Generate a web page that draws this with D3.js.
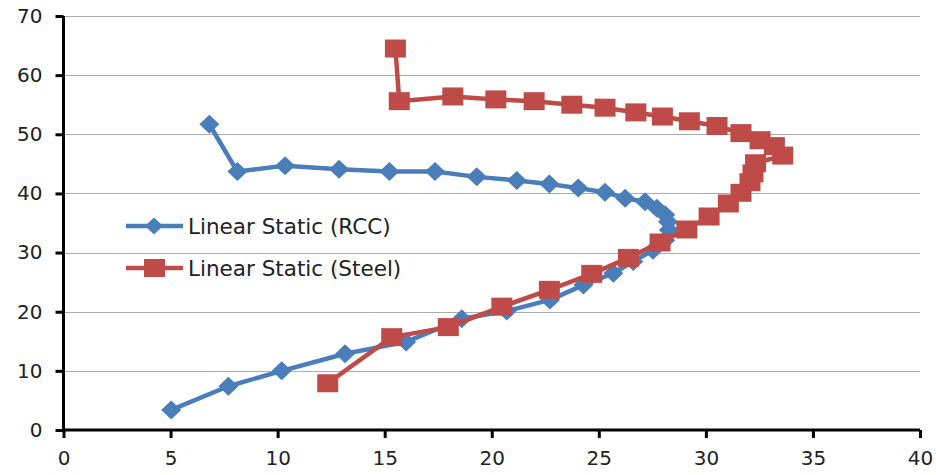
<!DOCTYPE html>
<html>
<head>
<meta charset="utf-8">
<script src="https://cdn.jsdelivr.net/npm/d3@7"></script>
<style>
  html, body { margin: 0; padding: 0; background: #ffffff; }
  svg { display: block; }
</style>
</head>
<body>
<svg id="chart" width="936" height="475"></svg>
<script>
// ---- data ----
const seriesNames = ["Linear Static (RCC)", "Linear Static (Steel)"];
const xTicks = [0, 5, 10, 15, 20, 25, 30, 35, 40];
const yTicks = [0, 10, 20, 30, 40, 50, 60, 70];

const rccX = [5.03, 7.70, 10.19, 13.15, 16.0, 18.6, 20.7, 22.72, 24.28, 25.68, 26.61, 27.53, 28.1, 28.27, 28.23, 28.1, 27.71, 27.16, 26.23, 25.29, 24.04, 22.69, 21.17, 19.3, 17.35, 15.22, 12.87, 10.35, 8.12, 6.81];
const rccY = [3.4, 7.4, 10.0, 12.9, 14.9, 18.8, 20.1, 22.0, 24.5, 26.5, 28.5, 30.4, 32.1, 33.8, 35.2, 36.4, 37.5, 38.6, 39.2, 40.2, 40.9, 41.6, 42.2, 42.8, 43.7, 43.7, 44.1, 44.7, 43.7, 51.7];

const steelX = [12.34, 15.33, 17.97, 20.47, 22.69, 24.67, 26.38, 27.86, 29.11, 30.15, 31.05, 31.64, 32.06, 32.2, 32.32, 33.59, 33.2, 32.53, 31.64, 30.52, 29.23, 27.97, 26.73, 25.29, 23.74, 21.98, 20.19, 18.18, 15.68, 15.5];
const steelY = [7.9, 15.7, 17.4, 20.85, 23.7, 26.4, 29.1, 31.7, 33.9, 36.1, 38.3, 40.1, 41.9, 43.4, 45.1, 46.4, 48.0, 49.0, 50.2, 51.4, 52.2, 53.0, 53.7, 54.5, 55.0, 55.6, 55.9, 56.4, 55.6, 64.5];

// ---- drawing ----
const svg = d3.select("#chart");
const x = d3.scaleLinear().domain([0, 40]).range([63.5, 920]);
const y = d3.scaleLinear().domain([0, 70]).range([430, 16]);

const blue = "#4A7EBB";
const red = "#BE4B48";
const font = "DejaVu Sans, Verdana, sans-serif";

// gridlines
svg.append("g").selectAll("line")
  .data(yTicks.filter(t => t > 0))
  .join("line")
  .attr("x1", x(0)).attr("x2", x(40))
  .attr("y1", d => Math.round(y(d)) + 0.5).attr("y2", d => Math.round(y(d)) + 0.5)
  .attr("stroke", "#ababab").attr("stroke-width", 1.2);

// y axis
const yAxis = svg.append("g")
  .attr("transform", `translate(${x(0)},0)`)
  .call(d3.axisLeft(y).tickValues(yTicks).tickSize(8).tickPadding(13).tickFormat(d3.format("d")));
yAxis.select(".domain").attr("stroke", "#000").attr("stroke-width", 3).attr("d", `M0,${y(70)}V${y(0)}`);
yAxis.selectAll(".tick line").attr("stroke", "#000").attr("stroke-width", 3);
yAxis.selectAll(".tick text")
  .attr("font-family", font)
  .attr("font-size", 20).attr("fill", "#222");

// x axis
const xAxis = svg.append("g")
  .attr("transform", `translate(0,${y(0)})`)
  .call(d3.axisBottom(x).tickValues(xTicks).tickSize(8).tickPadding(13).tickFormat(d3.format("d")));
xAxis.select(".domain").attr("stroke", "#000").attr("stroke-width", 3).attr("d", `M${x(0)},0H${x(40)}`);
xAxis.selectAll(".tick line").attr("stroke", "#000").attr("stroke-width", 3);
xAxis.selectAll(".tick text")
  .attr("font-family", font)
  .attr("font-size", 20).attr("fill", "#222");

const rcc = rccX.map((v, i) => ({ x: v, y: rccY[i] }));
const steel = steelX.map((v, i) => ({ x: v, y: steelY[i] }));

const line = d3.line().x(d => x(d.x)).y(d => y(d.y));

const diamond = "M0,-9.5L10,0L0,9.5L-10,0Z";

// RCC series
svg.append("path").datum(rcc)
  .attr("d", line).attr("fill", "none")
  .attr("stroke", blue).attr("stroke-width", 4.5).attr("stroke-linejoin", "round");
svg.append("g").selectAll("path")
  .data(rcc).join("path")
  .attr("d", diamond)
  .attr("transform", d => `translate(${x(d.x)},${y(d.y)})`)
  .attr("fill", blue);

// Steel series
svg.append("path").datum(steel)
  .attr("d", line).attr("fill", "none")
  .attr("stroke", red).attr("stroke-width", 4.5).attr("stroke-linejoin", "round");
svg.append("g").selectAll("rect")
  .data(steel).join("rect")
  .attr("x", d => x(d.x) - 10.5).attr("y", d => y(d.y) - 9)
  .attr("width", 21).attr("height", 18)
  .attr("fill", red);

// legend
const legend = svg.append("g");
const legendItems = [
  { name: seriesNames[0], color: blue, marker: "diamond", ly: 226 },
  { name: seriesNames[1], color: red, marker: "square", ly: 268 }
];
legendItems.forEach(item => {
  const g = legend.append("g").attr("transform", `translate(0,${item.ly})`);
  g.append("line").attr("x1", 126).attr("x2", 183).attr("y1", 0).attr("y2", 0)
    .attr("stroke", item.color).attr("stroke-width", 4.5);
  if (item.marker === "diamond") {
    g.append("path").attr("d", "M0,-8.5L9,0L0,8.5L-9,0Z").attr("transform", "translate(154,0)").attr("fill", item.color);
  } else {
    g.append("rect").attr("x", 144).attr("y", -9).attr("width", 21).attr("height", 18).attr("fill", item.color);
  }
  g.append("text").attr("x", 188).attr("y", 0).attr("dy", "0.36em")
    .attr("font-family", font)
    .attr("font-size", 21.5).attr("fill", "#222")
    .text(item.name);
});
</script>
</body>
</html>
